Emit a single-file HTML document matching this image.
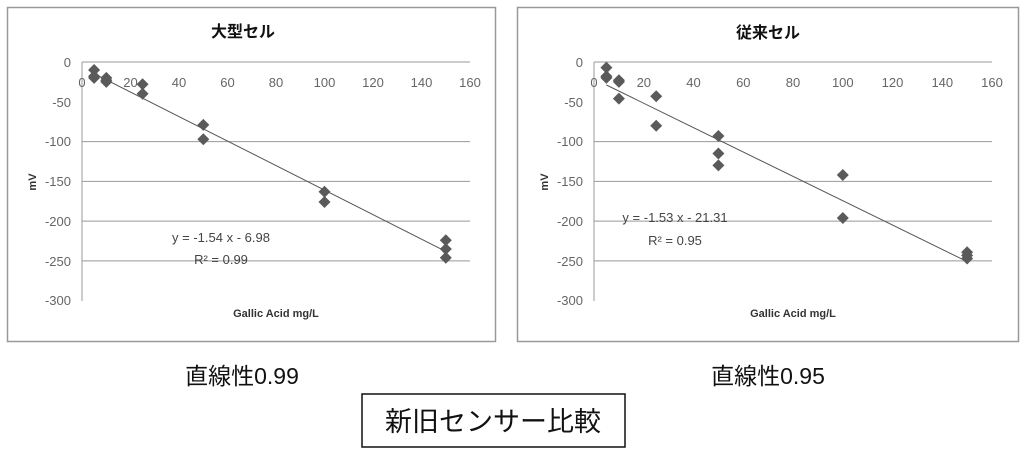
<!DOCTYPE html>
<html><head><meta charset="utf-8"><style>
body{margin:0;background:#fff}
svg{display:block}
text{font-family:"Liberation Sans","Noto Sans CJK JP",sans-serif}
</style></head><body>
<svg width="1024" height="457" viewBox="0 0 1024 457" xmlns="http://www.w3.org/2000/svg">
<defs><path id="d" d="M0,-6 L6,0 L0,6 L-6,0Z" fill="#5a5a5a"/></defs>
<!-- Left chart -->
<rect x="7.5" y="7.5" width="488" height="334" fill="#fff" stroke="#999" stroke-width="1.5"/>
<text x="243" y="37" font-size="16" font-weight="bold" text-anchor="middle" fill="#111">大型セル</text>
<g stroke="#999" stroke-width="1">
<line x1="82" y1="62" x2="470" y2="62"/><line x1="82" y1="141.6" x2="470" y2="141.6"/><line x1="82" y1="181.4" x2="470" y2="181.4"/><line x1="82" y1="221.1" x2="470" y2="221.1"/><line x1="82" y1="260.9" x2="470" y2="260.9"/>
<line x1="82" y1="62" x2="82" y2="301"/></g>
<g font-size="13" fill="#666" text-anchor="end">
<text x="71" y="67">0</text><text x="71" y="107">-50</text><text x="71" y="146">-100</text><text x="71" y="186">-150</text><text x="71" y="226">-200</text><text x="71" y="266">-250</text><text x="71" y="305">-300</text></g>
<g font-size="13" fill="#666" text-anchor="middle">
<text x="82" y="87">0</text><text x="130.5" y="87">20</text><text x="179" y="87">40</text><text x="227.5" y="87">60</text><text x="276" y="87">80</text><text x="324.5" y="87">100</text><text x="373" y="87">120</text><text x="421.5" y="87">140</text><text x="470" y="87">160</text></g>
<text x="36" y="182" font-size="11" font-weight="bold" fill="#333" transform="rotate(-90 36 182)" text-anchor="middle">mV</text>
<text x="276" y="317" font-size="11" font-weight="bold" fill="#333" text-anchor="middle">Gallic Acid mg/L</text>
<line x1="94.1" y1="73.7" x2="445.8" y2="251.4" stroke="#555" stroke-width="1"/>
<g>
<use href="#d" x="94.1" y="70"/><use href="#d" x="94.1" y="76.3"/><use href="#d" x="94.1" y="77.9"/><use href="#d" x="106.3" y="77.9"/><use href="#d" x="106.3" y="80.3"/><use href="#d" x="106.3" y="81.9"/><use href="#d" x="142.6" y="84.3"/><use href="#d" x="142.6" y="93.8"/><use href="#d" x="203.3" y="124.9"/><use href="#d" x="203.3" y="139.2"/><use href="#d" x="324.5" y="191.7"/><use href="#d" x="324.5" y="202"/><use href="#d" x="445.8" y="240.2"/><use href="#d" x="445.8" y="249"/><use href="#d" x="445.8" y="257.7"/></g>
<text x="221" y="242" font-size="13" fill="#444" text-anchor="middle">y = -1.54 x - 6.98</text>
<text x="221" y="264" font-size="13" fill="#444" text-anchor="middle">R² = 0.99</text>

<!-- Right chart -->
<rect x="517.5" y="7.5" width="501" height="334" fill="#fff" stroke="#999" stroke-width="1.5"/>
<text x="768" y="38" font-size="16" font-weight="bold" text-anchor="middle" fill="#111">従来セル</text>
<g stroke="#999" stroke-width="1">
<line x1="594" y1="62" x2="992" y2="62"/><line x1="594" y1="141.6" x2="992" y2="141.6"/><line x1="594" y1="181.4" x2="992" y2="181.4"/><line x1="594" y1="221.1" x2="992" y2="221.1"/><line x1="594" y1="260.9" x2="992" y2="260.9"/>
<line x1="594" y1="62" x2="594" y2="301"/></g>
<g font-size="13" fill="#666" text-anchor="end">
<text x="583" y="67">0</text><text x="583" y="107">-50</text><text x="583" y="146">-100</text><text x="583" y="186">-150</text><text x="583" y="226">-200</text><text x="583" y="266">-250</text><text x="583" y="305">-300</text></g>
<g font-size="13" fill="#666" text-anchor="middle">
<text x="594" y="87">0</text><text x="643.8" y="87">20</text><text x="693.5" y="87">40</text><text x="743.3" y="87">60</text><text x="793" y="87">80</text><text x="842.8" y="87">100</text><text x="892.5" y="87">120</text><text x="942.3" y="87">140</text><text x="992" y="87">160</text></g>
<text x="548" y="182" font-size="11" font-weight="bold" fill="#333" transform="rotate(-90 548 182)" text-anchor="middle">mV</text>
<text x="793" y="317" font-size="11" font-weight="bold" fill="#333" text-anchor="middle">Gallic Acid mg/L</text>
<line x1="606.4" y1="85" x2="967.1" y2="261.6" stroke="#555" stroke-width="1"/>
<g>
<use href="#d" x="606.4" y="67.6"/><use href="#d" x="606.4" y="76.3"/><use href="#d" x="606.4" y="77.9"/><use href="#d" x="618.9" y="80.3"/><use href="#d" x="618.9" y="81.9"/><use href="#d" x="618.9" y="98.6"/><use href="#d" x="656.2" y="96.2"/><use href="#d" x="656.2" y="125.7"/><use href="#d" x="718.4" y="136"/><use href="#d" x="718.4" y="153.5"/><use href="#d" x="718.4" y="165.4"/><use href="#d" x="842.8" y="175"/><use href="#d" x="842.8" y="218"/><use href="#d" x="967.1" y="252.2"/><use href="#d" x="967.1" y="255.4"/><use href="#d" x="967.1" y="258.5"/></g>
<text x="675" y="222" font-size="13" fill="#444" text-anchor="middle">y = -1.53 x - 21.31</text>
<text x="675" y="245" font-size="13" fill="#444" text-anchor="middle">R² = 0.95</text>

<!-- Bottom -->
<text x="242" y="384" font-size="23" fill="#111" text-anchor="middle">直線性0.99</text>
<text x="768" y="384" font-size="23" fill="#111" text-anchor="middle">直線性0.95</text>
<rect x="362" y="394" width="263" height="53" fill="#fff" stroke="#111" stroke-width="1.5"/>
<text x="493" y="431" font-size="27" fill="#111" text-anchor="middle">新旧センサー比較</text>
</svg>
</body></html>
